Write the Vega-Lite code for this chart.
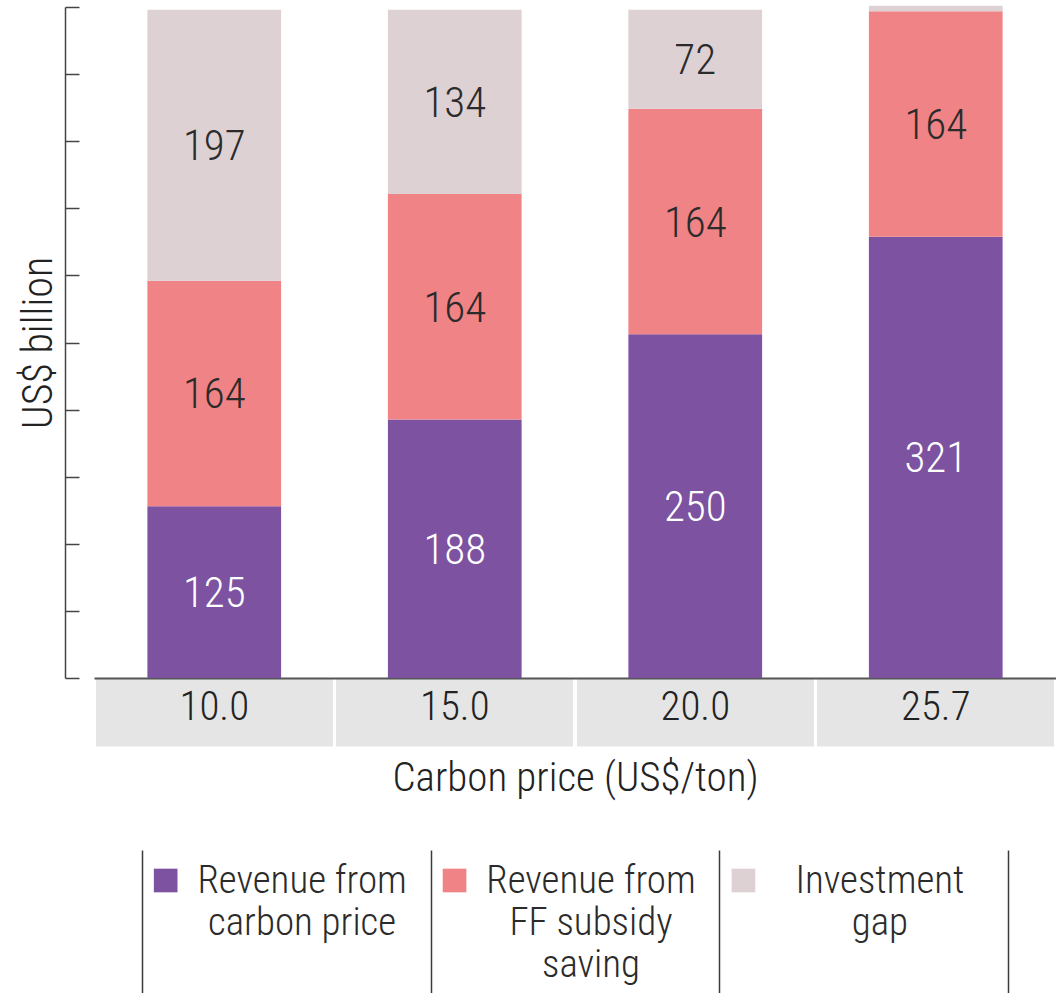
{
  "$schema": "https://vega.github.io/schema/vega-lite/v6.json",
  "background": "white",
  "padding": {"left": 17, "top": 5, "right": 0, "bottom": 0},
  "bounds": "flush",
  "spacing": 172,
  "config": {
    "view": {"stroke": null},
    "font": "Roboto Condensed, Liberation Sans Narrow, DejaVu Sans Condensed, Roboto, sans-serif"
  },
  "vconcat": [
    {
      "width": 962,
      "height": 671,
      "data": {"values": [
        {"price": "10.0", "series": "Revenue from carbon price", "value": 125},
        {"price": "10.0", "series": "Revenue from FF subsidy saving", "value": 164},
        {"price": "10.0", "series": "Investment gap", "value": 197},
        {"price": "15.0", "series": "Revenue from carbon price", "value": 188},
        {"price": "15.0", "series": "Revenue from FF subsidy saving", "value": 164},
        {"price": "15.0", "series": "Investment gap", "value": 134},
        {"price": "20.0", "series": "Revenue from carbon price", "value": 250},
        {"price": "20.0", "series": "Revenue from FF subsidy saving", "value": 164},
        {"price": "20.0", "series": "Investment gap", "value": 72},
        {"price": "25.7", "series": "Revenue from carbon price", "value": 321},
        {"price": "25.7", "series": "Revenue from FF subsidy saving", "value": 164},
        {"price": "25.7", "series": "Investment gap", "value": 4}
      ]},
      "transform": [
        {"stack": "value", "groupby": ["price"], "sort": [{"field": "series", "order": "descending"}], "as": ["v0", "v1"]},
        {"calculate": "(datum.v0 + datum.v1) / 2", "as": "mid"}
      ],
      "layer": [
        {
          "mark": {"type": "bar"},
          "encoding": {
            "x": {
              "field": "price", "type": "nominal", "sort": ["10.0", "15.0", "20.0", "25.7"],
              "scale": {"paddingInner": 0.444, "paddingOuter": 0.222},
              "axis": {
                "title": "Carbon price (US$/ton)", "labelAngle": 0, "labelFontSize": 41, "labelFontWeight": 300,
                "labelColor": "#222222", "labelBaseline": "middle", "labelPadding": -39,
                "tickSize": 68, "tickWidth": 237, "tickColor": "#e5e5e5", "tickCap": "butt",
                "domainColor": "#555555", "domainWidth": 2,
                "titleFontSize": 41, "titleFontWeight": 300, "titleColor": "#222222", "titlePadding": -106
              }
            },
            "y": {
              "field": "v0", "type": "quantitative",
              "scale": {"domain": [0, 488], "nice": false},
              "axis": {
                "title": "US$ billion", "labels": false,
                "values": [0, 48.8, 97.6, 146.4, 195.2, 244, 292.8, 341.6, 390.4, 439.2, 488],
                "tickSize": -14, "offset": 29, "grid": false,
                "domainColor": "#444444", "tickColor": "#444444", "domainWidth": 1.5, "tickWidth": 1.5,
                "titleFontSize": 42, "titleFontWeight": 300, "titleColor": "#222222", "titlePadding": 4
              }
            },
            "y2": {"field": "v1"},
            "color": {
              "field": "series", "type": "nominal",
              "scale": {
                "domain": ["Revenue from carbon price", "Revenue from FF subsidy saving", "Investment gap"],
                "range": ["#7c52a1", "#f08385", "#ddd1d4"]
              },
              "legend": null
            }
          }
        },
        {
          "transform": [{"filter": "datum.value >= 20"}],
          "mark": {"type": "text", "fontSize": 43, "fontWeight": 300, "baseline": "middle", "align": "center", "dy": 2},
          "encoding": {
            "x": {"field": "price", "type": "nominal", "sort": ["10.0", "15.0", "20.0", "25.7"]},
            "y": {"field": "mid", "type": "quantitative"},
            "text": {"field": "value", "type": "quantitative"},
            "color": {
              "condition": {"test": "datum.series === 'Revenue from carbon price'", "value": "#ffffff"},
              "value": "#2b2b2b"
            }
          }
        }
      ]
    },
    {
      "width": 962,
      "height": 143,
      "data": {"values": [
        {"series": "Revenue from carbon price", "label": "Revenue from\ncarbon price"},
        {"series": "Revenue from FF subsidy saving", "label": "Revenue from\nFF subsidy\nsaving"},
        {"series": "Investment gap", "label": "Investment\ngap"}
      ]},
      "layer": [
        {
          "mark": {"type": "square", "size": 560, "opacity": 1, "filled": true, "yOffset": -41, "xOffset": 24},
          "encoding": {
            "x": {
              "field": "series", "type": "nominal",
              "sort": ["Revenue from carbon price", "Revenue from FF subsidy saving", "Investment gap"],
              "bandPosition": 0,
              "scale": {"paddingInner": 0, "paddingOuter": 0.165},
              "axis": {
                "title": null, "labels": false, "ticks": false, "domain": false,
                "grid": true, "gridColor": "#3a3a3a", "gridWidth": 1.5, "tickBand": "extent"
              }
            },
            "color": {
              "field": "series", "type": "nominal",
              "scale": {
                "domain": ["Revenue from carbon price", "Revenue from FF subsidy saving", "Investment gap"],
                "range": ["#7c52a1", "#f08385", "#ddd1d4"]
              },
              "legend": null
            }
          }
        },
        {
          "mark": {"type": "text", "fontSize": 39, "fontWeight": 300, "align": "center", "baseline": "alphabetic", "dy": -29, "dx": 16, "lineBreak": "\n", "lineHeight": 42, "color": "#2b2b2b"},
          "encoding": {
            "x": {
              "field": "series", "type": "nominal",
              "sort": ["Revenue from carbon price", "Revenue from FF subsidy saving", "Investment gap"]
            },
            "text": {"field": "label", "type": "nominal"}
          }
        }
      ]
    }
  ]
}
